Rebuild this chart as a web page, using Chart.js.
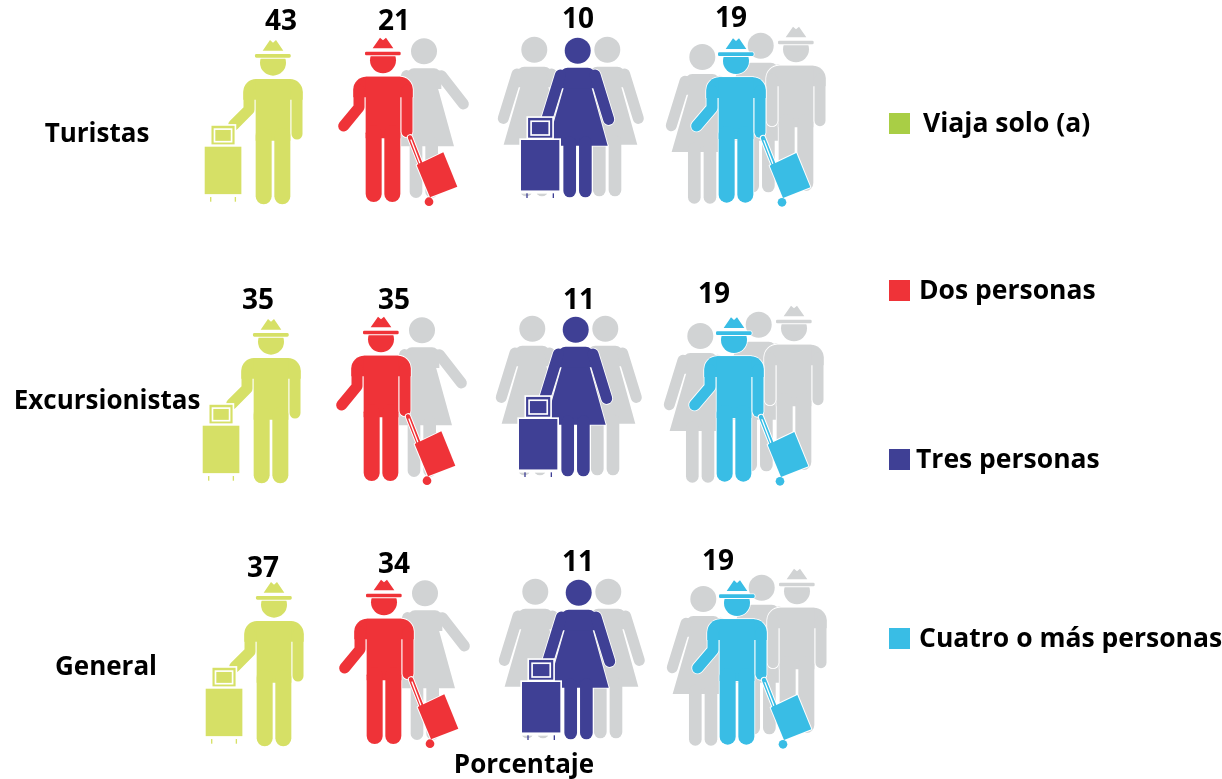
<!DOCTYPE html>
<html><head><meta charset="utf-8">
<style>html,body{margin:0;padding:0;background:#fff}#w{position:relative;width:1222px;height:779px}</style>
<script src="https://cdn.jsdelivr.net/npm/chart.js@4/dist/chart.umd.min.js"></script>
</head><body><div id="w"><canvas id="c" width="1222" height="779"></canvas></div>
<script>
// ---- data ----
const rowLabels = ['Turistas', 'Excursionistas', 'General'];
const groupLabels = ['Viaja solo (a)', 'Dos personas', 'Tres personas', 'Cuatro o más personas'];
const turistas = [43, 21, 10, 19];
const excursionistas = [35, 35, 11, 19];
const general = [37, 34, 11, 19];
const rowValues = [turistas, excursionistas, general];
const axisTitle = 'Porcentaje';

// ---- style ----
const GRAY = '#D1D3D4', ICON = ['#D6E066', '#EF3338', '#3F4095', '#39BDE5'];
const SWATCH = ['#A9CE45', '#EF3338', '#3F4095', '#39BDE5'];
const FAMILY = '"Open Sans"';
const FONT = 'bold 26px ' + FAMILY, VALUE_FONT = 'bold 28px ' + FAMILY, LEGEND_FONT = 'bold 26.5px ' + FAMILY;
const ROW_SHIFT = [[0, 0], [-2, 8], [1, 0]];
const VALUE_NUDGE = [
  [[-3, -100], [-50, -100], [-26, -102], [-33, -103]],
  [[-24, -100], [-48, -100], [-23, -100], [-48, -106]],
  [[-22, -95], [-51, -99], [-27, -101], [-47, -102]]
];
const ROW_LABEL_NUDGE = [[-187, 13], [-177, 9], [-178, 4]];
const LEGEND_LAYOUT = [[889, 123, 923], [889, 290, 919], [889, 459, 916], [889, 638, 919]];

// ---- pictogram primitives (drawn in 1/3 px units) ----
function layer(c, color, halo, build) {
  if (halo) { c.fillStyle = c.strokeStyle = '#fff'; build(c, halo); }
  c.fillStyle = c.strokeStyle = color; build(c, 0);
}
function line(c, pts, w, h) {
  c.beginPath(); c.moveTo(pts[0][0], pts[0][1]);
  for (let i = 1; i < pts.length; i++) c.lineTo(pts[i][0], pts[i][1]);
  c.lineCap = 'round'; c.lineJoin = 'round'; c.lineWidth = w + h; c.stroke();
}
function finish(c, h) { c.fill(); if (h) { c.lineWidth = h; c.lineJoin = 'round'; c.stroke(); } }
function poly(c, pts, h) {
  c.beginPath(); pts.forEach((p, i) => i ? c.lineTo(p[0], p[1]) : c.moveTo(p[0], p[1])); c.closePath(); finish(c, h);
}
function man(c, color, cx, top, leftArm, halo) {
  c.save(); c.translate(cx, top);
  layer(c, color, halo, (c, h) => {
    poly(c, [[-31, -85], [-9, -117], [0, -109], [9, -117], [31, -85]], h);
    c.beginPath(); c.roundRect(-54, -75, 107, 11, 4); finish(c, h);
    c.save(); c.beginPath(); c.rect(-60, -61, 120, 60); c.clip();
    c.beginPath(); c.arc(0, -49, 39, 0, 7); c.fill(); c.restore();
    if (h) { c.beginPath(); c.arc(0, -49, 39, 0, Math.PI); c.lineWidth = h; c.stroke(); }
    c.beginPath(); c.roundRect(-89, 0, 178, 62, [38, 38, 0, 0]); finish(c, h);
    c.beginPath(); c.rect(-52, 0, 104, 185); finish(c, h);
    line(c, [[-72, 40], [-72, 92], leftArm], 33, h);
    line(c, [[72, 40], [72, 165]], 33, h);
    line(c, [[-28, 170], [-28, 352]], 48, h);
    line(c, [[28, 170], [28, 352]], 48, h);
  });
  c.restore();
}
function woman(c, color, cx, top, rightArm, halo) {
  c.save(); c.translate(cx, top);
  layer(c, color, halo, (c, h) => {
    c.beginPath(); c.arc(0, -51, 39, 0, 7); finish(c, h);
    c.beginPath(); c.moveTo(-41, 57); c.lineTo(-92, 234); c.lineTo(90, 234); c.lineTo(41, 57); c.closePath(); finish(c, h);
    c.beginPath(); c.roundRect(-52, 0, 104, 62, [22, 22, 0, 0]); finish(c, h);
    line(c, [[-52, 22], [-93, 155]], 33, h);
    line(c, [[52, 22], rightArm], 33, h);
    line(c, [[-24, 225], [-24, 370]], 38, h);
    line(c, [[23, 225], [23, 370]], 38, h);
  });
  c.restore();
}
function tiltedCase(c, color, cx, top) {
  c.save(); c.translate(cx, top);
  layer(c, color, 6, (c, h) => {
    c.beginPath(); c.arc(138, 375, 13, 0, 7); finish(c, h);
    line(c, [[81, 182], [116, 270]], 13, h);
    c.beginPath(); c.moveTo(181, 227); c.lineTo(223, 330); c.lineTo(141, 362); c.lineTo(101, 265); c.closePath(); finish(c, h);
  });
  c.strokeStyle = '#fff'; line(c, [[84, 190], [110, 258]], 4, 0);
  c.restore();
}
function uprightCase(c, color, x, y, w, hgt) {
  const fw = w * 0.63, fh = hgt * 0.39, fx = x + (w - fw) / 2, fy = y - fh - 7;
  // handle frame
  c.fillStyle = '#fff'; c.fillRect(fx - 5, fy - 5, fw + 10, fh + 12);
  c.fillStyle = color; c.fillRect(fx, fy, fw, fh);
  c.strokeStyle = '#fff'; c.lineWidth = 5; c.strokeRect(fx + 9, fy + 10, fw - 18, fh - 18);
  // body with white edge
  c.fillStyle = '#fff'; c.fillRect(x - 5, y - 5, w + 10, hgt + 10);
  c.fillStyle = color; c.fillRect(x, y, w, hgt);
  // white band with wheels
  c.fillStyle = '#fff'; c.fillRect(x - 5, y + hgt, w + 10, 9);
  c.fillStyle = color;
  c.fillRect(x + 16, y + hgt + 8, 4, 14); c.fillRect(x + w - 20, y + hgt + 8, 4, 14);
}

// ---- one icon canvas per group size; the point sits at its centre ----
function makeIcon(px, paint) {
  const cv = document.createElement('canvas'); cv.width = 320; cv.height = 260;
  const c = cv.getContext('2d');
  c.translate(160, 130); c.scale(1 / 3, 1 / 3);
  const X = v => (v - px) * 3, Y = v => (v - 122) * 3;
  paint(c, X, Y);
  return cv;
}
const icons = [
  makeIcon(284, (c, X, Y) => {
    man(c, ICON[0], X(273), Y(79), [-118, 138], 0);
    uprightCase(c, ICON[0], X(204.7), Y(146.7), 110, 143);
  }),
  makeIcon(444, (c, X, Y) => {
    woman(c, GRAY, X(424), Y(68.3), [118, 107], 0);
    man(c, ICON[1], X(383), Y(76.7), [-118, 148], 5);
    tiltedCase(c, ICON[1], X(383), Y(76.7));
  }),
  makeIcon(604, (c, X, Y) => {
    woman(c, GRAY, X(534.3), Y(66.7), [93, 155], 0);
    woman(c, GRAY, X(607.3), Y(66.7), [93, 155], 0);
    woman(c, ICON[2], X(577.7), Y(67.7), [93, 155], 5);
    uprightCase(c, ICON[2], X(521), Y(140), 115, 152);
  }),
  makeIcon(764, (c, X, Y) => {
    woman(c, GRAY, X(760.7), Y(62.7), [93, 155], 0);
    man(c, GRAY, X(796), Y(65.7), [-72, 165], 5);
    woman(c, GRAY, X(702.3), Y(74), [93, 155], 0);
    man(c, ICON[3], X(736), Y(77.3), [-118, 146], 5);
    tiltedCase(c, ICON[3], X(736), Y(77.3));
  })
];

// ---- plugin: per-row nudge, value labels, row labels, legend ----
const pictoPlugin = {
  id: 'picto',
  afterDatasetsUpdate(chart) {
    chart.data.datasets.forEach((ds, d) => {
      chart.getDatasetMeta(d).data.forEach((pt, r) => {
        pt.x = chart.scales.x.getPixelForValue(d) + ROW_SHIFT[r][0];
        pt.y = chart.scales.y.getPixelForValue(r) + ROW_SHIFT[r][1];
      });
    });
  },
  afterDatasetsDraw(chart) {
    const c = chart.ctx; c.save();
    c.font = VALUE_FONT; c.fillStyle = '#000'; c.textAlign = 'center'; c.textBaseline = 'middle';
    chart.data.datasets.forEach((ds, d) => {
      chart.getDatasetMeta(d).data.forEach((pt, r) => {
        const n = VALUE_NUDGE[r][d];
        c.fillText(String(ds.data[r].v), pt.x + n[0], pt.y + n[1]);
      });
    });
    c.font = FONT;
    rowLabels.forEach((t, r) => {
      const n = ROW_LABEL_NUDGE[r];
      c.fillText(t, chart.scales.x.left + n[0], chart.scales.y.getPixelForValue(r) + n[1]);
    });
    c.font = LEGEND_FONT; c.textAlign = 'left';
    groupLabels.forEach((t, i) => {
      const l = LEGEND_LAYOUT[i];
      c.fillStyle = SWATCH[i]; c.fillRect(l[0], l[1] - 10, 21, 21);
      c.fillStyle = '#000'; c.fillText(t, l[2], l[1] + 1);
    });
    c.restore();
  }
};

new Chart(document.getElementById('c'), {
  type: 'scatter',
  plugins: [pictoPlugin],
  data: {
    datasets: groupLabels.map((g, d) => ({
      label: g,
      data: rowLabels.map((row, r) => ({ x: g, y: row, v: rowValues[r][d] })),
      pointStyle: icons[d],
      pointRadius: 10,
      pointHoverRadius: 10,
      showLine: false,
      clip: false
    }))
  },
  options: {
    responsive: false,
    animation: false,
    events: [],
    layout: { padding: { left: 284, right: 458, top: 122, bottom: 0 } },
    plugins: { legend: { display: false }, tooltip: { enabled: false } },
    scales: {
      x: {
        type: 'category', labels: groupLabels, offset: false,
        border: { display: false }, grid: { display: false, drawTicks: false },
        ticks: { display: false },
        title: { display: true, text: axisTitle, color: '#000', font: { family: 'Open Sans', weight: 'bold', size: 26, lineHeight: 1 }, padding: { top: 89, bottom: 0 } }
      },
      y: {
        type: 'category', labels: rowLabels, offset: false, display: false
      }
    }
  }
});
</script></body></html>
